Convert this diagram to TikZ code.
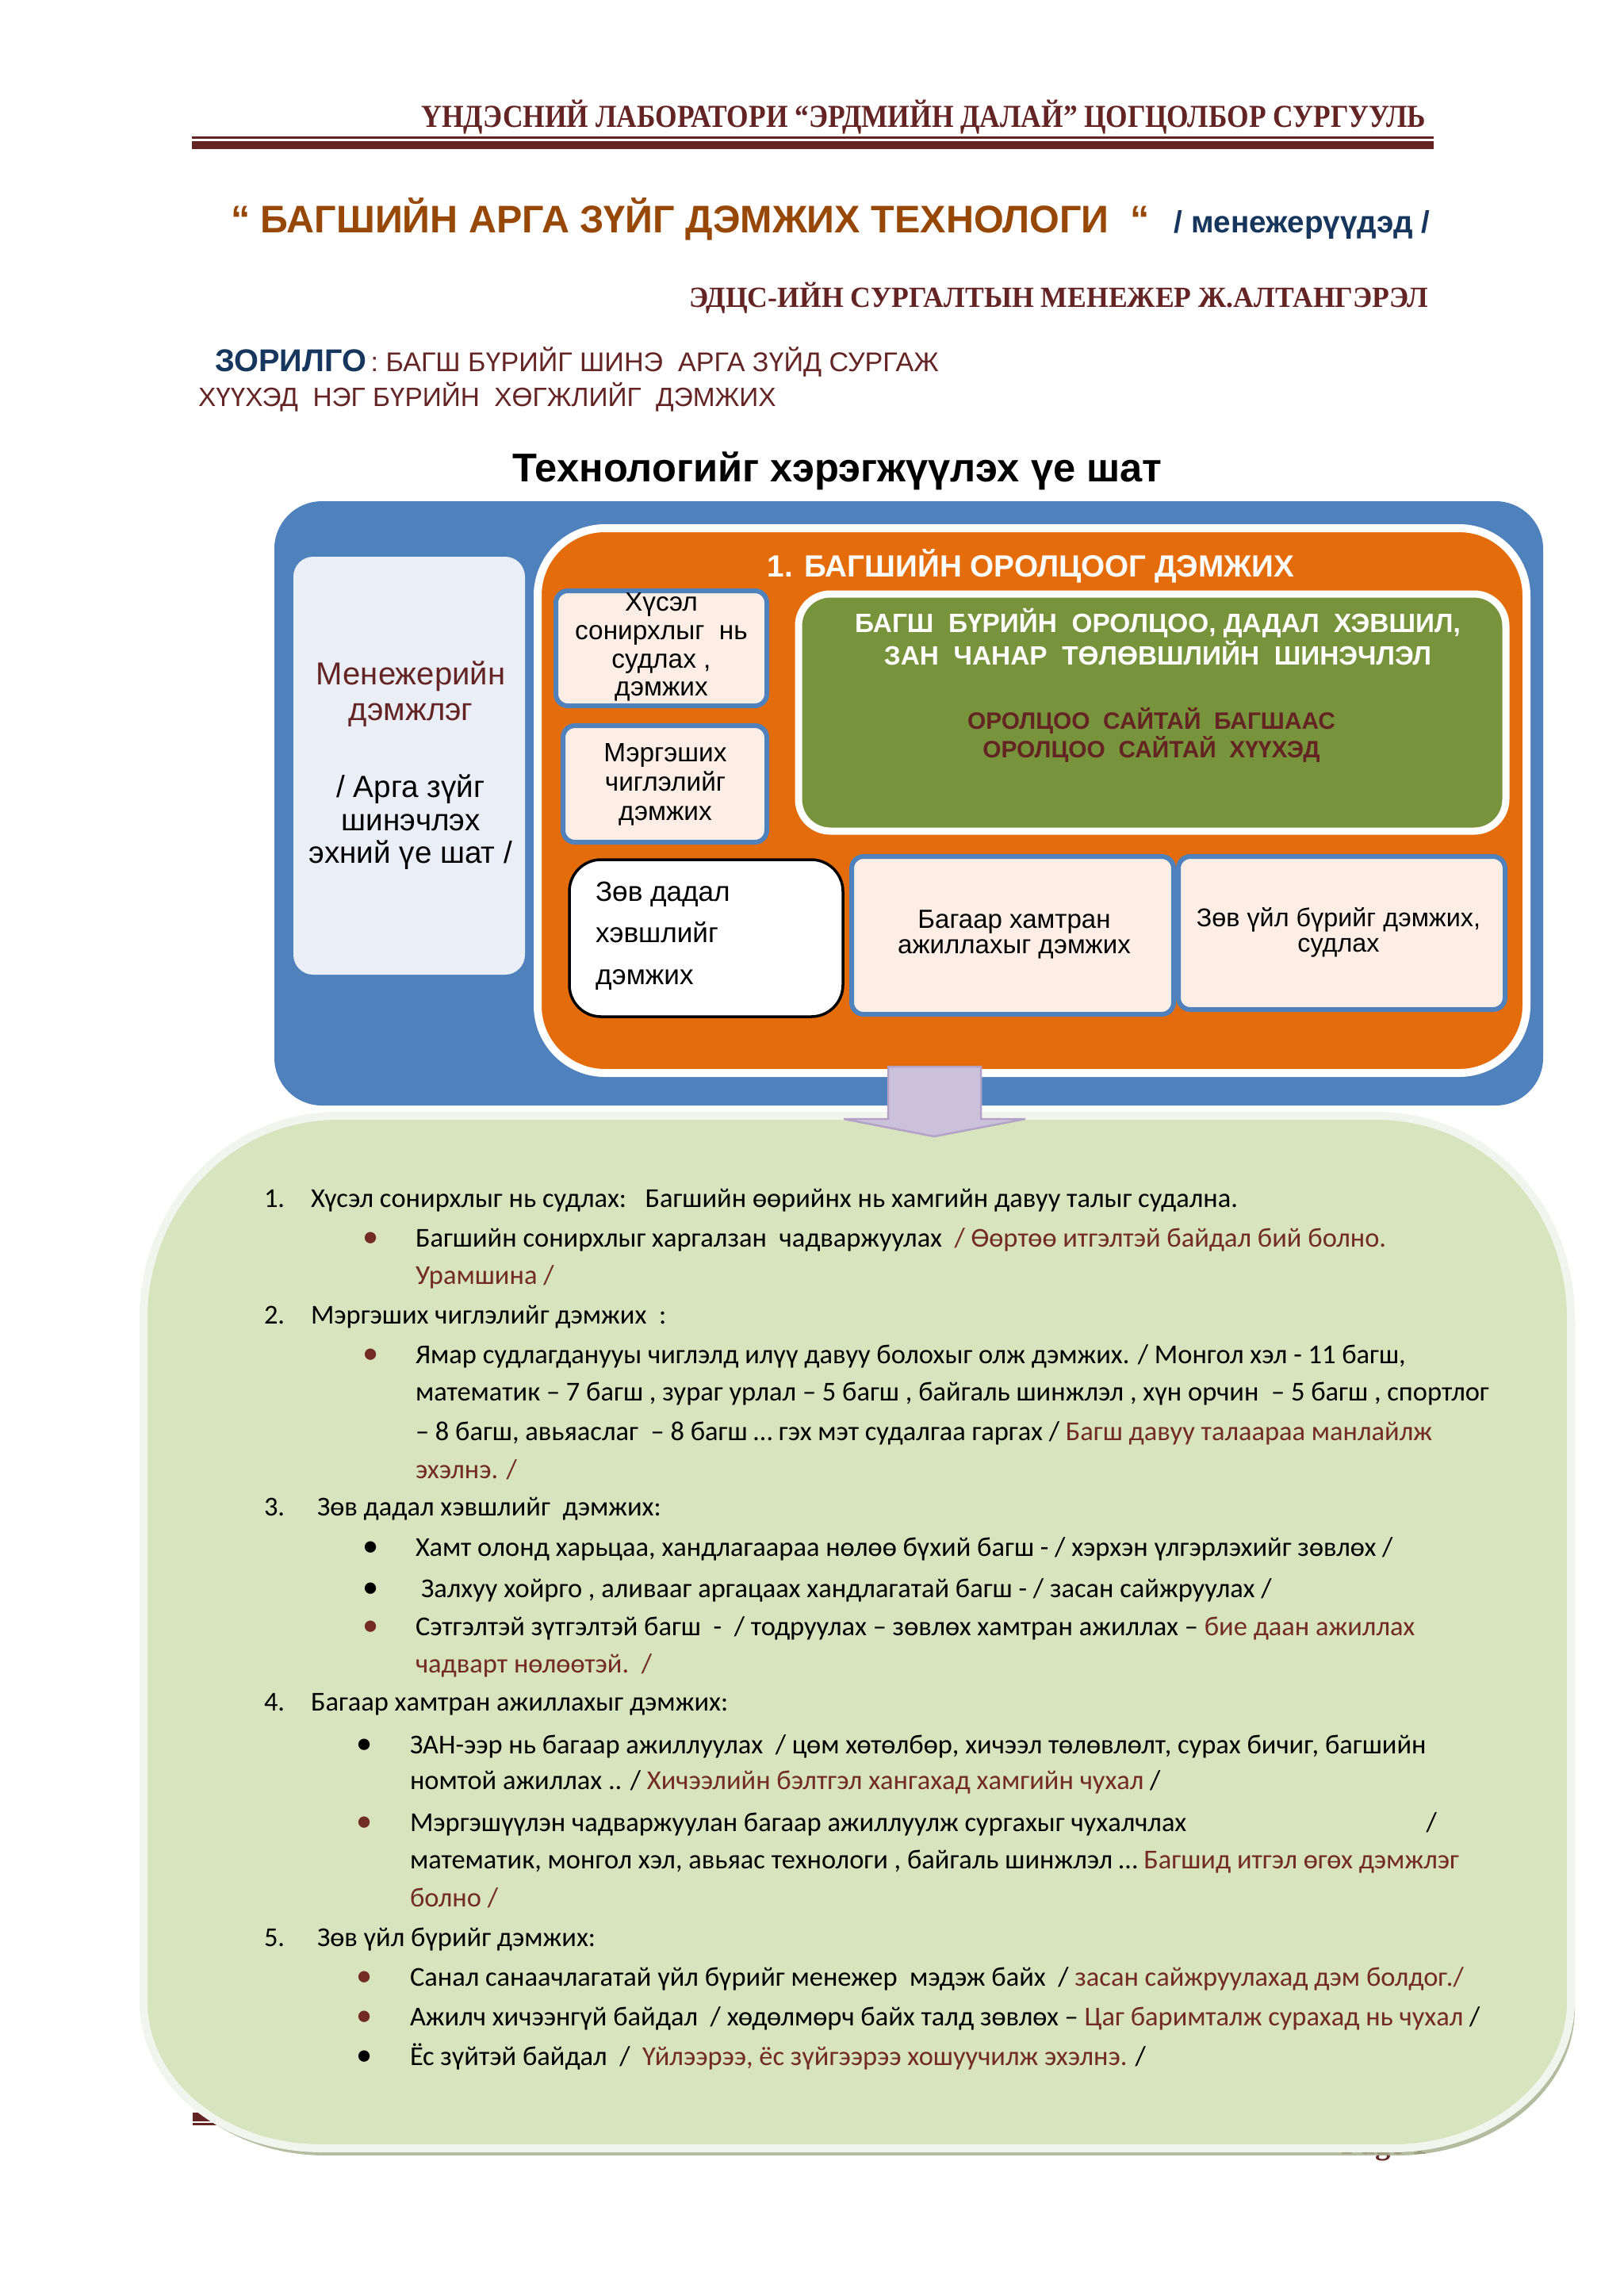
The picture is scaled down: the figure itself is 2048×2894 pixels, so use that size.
\documentclass[tikz,border=0pt]{standalone}
\usepackage{fontspec}
\setmainfont{Liberation Serif}
\newfontfamily\arialf{Liberation Sans}
\newfontfamily\calf{Carlito}
\definecolor{hdr}{HTML}{632423}
\definecolor{ttl}{HTML}{984806}
\definecolor{navy}{HTML}{17365D}
\definecolor{bluebox}{HTML}{4F81BD}
\definecolor{lightbox}{HTML}{EAEFF7}
\definecolor{orangebox}{HTML}{E46C0A}
\definecolor{peach}{HTML}{FCEEE4}
\definecolor{greenbox}{HTML}{77933C}
\definecolor{listgreen}{HTML}{D7E4BD}
\definecolor{listborder}{HTML}{F2F4EE}
\definecolor{listshadow}{HTML}{A8B08E}
\definecolor{arrowfill}{HTML}{CCC1DA}
\definecolor{arrowdraw}{HTML}{B3A2C7}
\definecolor{rd}{HTML}{722B25}
\newcommand\fsz[2]{\fontsize{#1}{#2}\selectfont}
\newcommand\listpath{(426,1407) -- (1736,1407) .. controls (1874,1407) and (1981,1520) .. (1981,1662) -- (1981,2524) .. controls (1981,2627) and (1880,2709) .. (1756,2709) -- (406,2709) .. controls (281,2709) and (181,2627) .. (181,2524) -- (181,1662) .. controls (181,1520) and (290,1407) .. (426,1407) -- cycle}
\begin{document}
\begin{tikzpicture}[x=0.1mm,y=-0.1mm,
  every node/.style={inner sep=0pt,outer sep=0pt},
  lst/.style={anchor=base west,font=\calf\fsz{9.8}{12},text=black},
  bul/.style={anchor=base,font=\calf\fsz{11.5}{12}},
  smallbox/.style={draw=bluebox,line width=0.6mm,fill=peach,rounded corners=1.5mm},
  boxtext/.style={font=\arialf\fsz{9.5}{10.2},align=center,text=black}]
\useasboundingbox (0,0) rectangle (2048,2894);
\fill[white] (0,0) rectangle (2048,2894);
% header
\node[anchor=base east,font=\bfseries\fsz{11.5}{12},text=hdr] (head) at (1798,160) {\scalebox{0.877}[1]{ҮНДЭСНИЙ ЛАБОРАТОРИ “ЭРДМИЙН ДАЛАЙ” ЦОГЦОЛБОР СУРГУУЛЬ}};
\fill[hdr] (242,172) rectangle (1808,175);
\fill[hdr] (242,178) rectangle (1808,188);
\node[anchor=base west,font=\arialf\bfseries\fsz{13.8}{14},text=ttl] (title) at (291,293) {“ БАГШИЙН АРГА ЗҮЙГ ДЭМЖИХ ТЕХНОЛОГИ\ \ “};
\node[anchor=base east,font=\arialf\bfseries\fsz{11}{12},text=navy] (mgr) at (1803,293) {/ менежерүүдэд /};
\node[anchor=base east,font=\bfseries\fsz{10.5}{12},text=hdr] (author) at (1801,387) {\scalebox{0.967}[1]{ЭДЦС-ИЙН СУРГАЛТЫН МЕНЕЖЕР Ж.АЛТАНГЭРЭЛ}};
\node[anchor=base west,font=\arialf\fsz{9.7}{12},text=hdr] (goal1) at (271,468) {{\bfseries\fsz{11.3}{12}\color{navy}ЗОРИЛГО}\,: БАГШ БҮРИЙГ ШИНЭ\ \ АРГА ЗҮЙД СУРГАЖ};
\node[anchor=base west,font=\arialf\fsz{9.5}{12},text=hdr] (goal2) at (250,512) {ХҮҮХЭД\ \ НЭГ БҮРИЙН\ \ ХӨГЖЛИЙГ\ \ ДЭМЖИХ};
\node[anchor=base,font=\arialf\bfseries\fsz{14.4}{15},text=black] (stage) at (1056,607) {Технологийг хэрэгжүүлэх үе шат};
% blue frame
\fill[bluebox,rounded corners=6mm] (346,632) rectangle (1946,1394);
\fill[lightbox,rounded corners=2.5mm] (370,702) rectangle (662,1229);
\node[font=\arialf\fsz{11.4}{13},text=hdr,align=center] (mgr1) at (518,875) {Менежерийн\\дэмжлэг};
\node[font=\arialf\fsz{11}{11.8},text=black,align=center] (mgr2) at (518,1037) {/ Арга зүйг\\шинэчлэх\\эхний үе шат /};
% orange box
\draw[white,line width=1mm,fill=orangebox,rounded corners=8.5mm] (678,666) rectangle (1925,1353);
\node[anchor=base,font=\arialf\bfseries\fsz{11}{12},text=white] (otitle) at (1300,727) {1. БАГШИЙН ОРОЛЦООГ ДЭМЖИХ};
\draw[smallbox] (701,745) rectangle (967,890);
\node[boxtext] (b1t) at (834,816) {Хүсэл\\сонирхлыг\ \ нь\\судлах ,\\дэмжих};
\draw[smallbox] (710,915) rectangle (967,1062);
\node[boxtext,font=\arialf\fsz{9.5}{10.5}] (b2t) at (839,989) {Мэргэших\\чиглэлийг\\дэмжих};
\draw[black,line width=0.35mm,fill=white,rounded corners=4mm] (718,1084) rectangle (1063,1282);
\node[anchor=west,font=\arialf\fsz{10}{15},align=left,text=black] (b3t) at (751,1180) {Зөв дадал\\хэвшлийг\\дэмжих};
\draw[smallbox] (1074,1080) rectangle (1480,1279);
\node[boxtext,font=\arialf\fsz{9.4}{9.1}] (b4t) at (1279,1178) {Багаар хамтран\\ажиллахыг дэмжих};
\draw[smallbox] (1486,1080) rectangle (1898,1273);
\node[boxtext,font=\arialf\fsz{9.2}{9.1}] (b5t) at (1688,1176) {Зөв үйл бүрийг дэмжих,\\судлах};
\draw[white,line width=0.9mm,fill=greenbox,rounded corners=4mm] (1007,749) rectangle (1899,1048);
\node[font=\arialf\bfseries\fsz{9.5}{9.7},text=white,align=center] (g1) at (1460,803) {БАГШ\ \ БҮРИЙН\ \ ОРОЛЦОО, ДАДАЛ\ \ ХЭВШИЛ,\\ЗАН\ \ ЧАНАР\ \ ТӨЛӨВШЛИЙН\ \ ШИНЭЧЛЭЛ};
\node[font=\arialf\bfseries\fsz{8.5}{8.8},text=hdr,align=center] (g2) at (1452,927) {ОРОЛЦОО\ \ САЙТАЙ\ \ БАГШААС\\ОРОЛЦОО\ \ САЙТАЙ\ \ ХҮҮХЭД};
% footer behind list shape
\fill[hdr] (243,2664) rectangle (1808,2675);
\fill[hdr] (243,2677) rectangle (1808,2680);
\node[anchor=base east,font=\bfseries\fsz{11}{12},text=hdr] (page) at (1800,2716) {Page 1};
% list shape
\fill[listshadow,opacity=0.85,shift={(5,9)}] \listpath;
\draw[listborder,line width=1mm,fill=listgreen] \listpath;
% arrow
\draw[arrowdraw,fill=arrowfill,line width=0.25mm] (1120,1345) -- (1237,1345) -- (1237,1411) -- (1293,1411) -- (1178,1433) -- (1064,1411) -- (1120,1411) -- cycle;
% list text
\node[lst] (n1) at (333,1522) {1.};
\node[lst] (t1) at (392,1522) {Хүсэл сонирхлыг нь судлах:\ \ \ Багшийн өөрийнх нь хамгийн давуу талыг судална.};
\node[bul,text=rd] (u2) at (468,1572) {•};
\node[lst] (t2) at (524,1572) {Багшийн сонирхлыг харгалзан\ \ чадваржуулах\ \ \textcolor{rd}{/ Өөртөө итгэлтэй байдал бий болно.}};
\node[lst,text=rd] (t3) at (524,1619) {Урамшина /};
\node[lst] (n2) at (333,1669) {2.};
\node[lst] (t4) at (392,1669) {Мэргэших чиглэлийг дэмжих\ \ :};
\node[bul,text=rd] (u5) at (468,1719) {•};
\node[lst] (t5) at (524,1719) {Ямар судлагданууы чиглэлд илүү давуу болохыг олж дэмжих. / Монгол хэл - 11 багш,};
\node[lst] (t6) at (524,1766) {математик – 7 багш , зураг урлал – 5 багш , байгаль шинжлэл , хүн орчин\ \ – 5 багш , спортлог};
\node[lst] (t7) at (524,1816) {– 8 багш, авьяаслаг\ \ – 8 багш … гэх мэт судалгаа гаргах / \textcolor{rd}{Багш давуу талаараа манлайлж}};
\node[lst,text=rd] (t8) at (524,1864) {эхэлнэ. /};
\node[lst] (n3) at (333,1911) {3.};
\node[lst] (t9) at (400,1911) {Зөв дадал хэвшлийг\ \ дэмжих:};
\node[bul,text=black] (u10) at (468,1962) {•};
\node[lst] (t10) at (524,1962) {Хамт олонд харьцаа, хандлагаараа нөлөө бүхий багш - / хэрхэн үлгэрлэхийг зөвлөх /};
\node[bul,text=black] (u11) at (468,2014) {•};
\node[lst] (t11) at (531,2014) {Залхуу хойрго , аливааг аргацаах хандлагатай багш - / засан сайжруулах /};
\node[bul,text=rd] (u12) at (468,2062) {•};
\node[lst] (t12) at (524,2062) {Сэтгэлтэй зүтгэлтэй багш\ \ -\ \ / тодруулах – зөвлөх хамтран ажиллах – \textcolor{rd}{бие даан ажиллах}};
\node[lst,text=rd] (t13) at (524,2109) {чадварт нөлөөтэй.\ \ /};
\node[lst] (n4) at (333,2157) {4.};
\node[lst] (t14) at (392,2157) {Багаар хамтран ажиллахыг дэмжих:};
\node[bul,text=black] (u15) at (460,2211) {•};
\node[lst] (t15) at (517,2211) {ЗАН-ээр нь багаар ажиллуулах\ \ / цөм хөтөлбөр, хичээл төлөвлөлт, сурах бичиг, багшийн};
\node[lst] (t16) at (517,2256) {номтой ажиллах .. / \textcolor{rd}{Хичээлийн бэлтгэл хангахад хамгийн чухал} /};
\node[bul,text=rd] (u17) at (460,2309) {•};
\node[lst] (t17) at (517,2309) {Мэргэшүүлэн чадваржуулан багаар ажиллуулж сургахыг чухалчлах};
\node[lst,anchor=base east] (t17b) at (1812,2309) {/};
\node[lst] (t18) at (517,2356) {математик, монгол хэл, авьяас технологи , байгаль шинжлэл … \textcolor{rd}{Багшид итгэл өгөх дэмжлэг}};
\node[lst,text=rd] (t19) at (517,2404) {болно /};
\node[lst] (n5) at (333,2454) {5.};
\node[lst] (t20) at (400,2454) {Зөв үйл бүрийг дэмжих:};
\node[bul,text=rd] (u21) at (460,2504) {•};
\node[lst] (t21) at (517,2504) {Санал санаачлагатай үйл бүрийг менежер\ \ мэдэж байх\ \ / \textcolor{rd}{засан сайжруулахад дэм болдог./}};
\node[bul,text=rd] (u22) at (460,2554) {•};
\node[lst] (t22) at (517,2554) {Ажилч хичээнгүй байдал\ \ / хөдөлмөрч байх талд зөвлөх – \textcolor{rd}{Цаг баримталж сурахад нь чухал} /};
\node[bul,text=black] (u23) at (460,2604) {•};
\node[lst] (t23) at (517,2604) {Ёс зүйтэй байдал\ \ /\ \ \textcolor{rd}{Үйлээрээ, ёс зүйгээрээ хошуучилж эхэлнэ.} /};
\end{tikzpicture}
\end{document}
